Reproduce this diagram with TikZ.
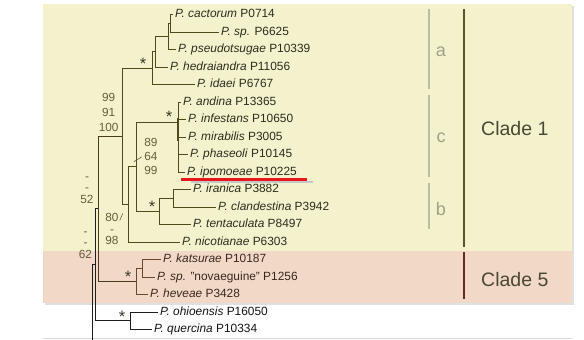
\documentclass[tikz,border=0pt]{standalone}
\usepackage{fontspec}
\setmainfont{Liberation Sans}
\usetikzlibrary{
  positioning,
  calc,
}
\definecolor{cladeone}{RGB}{244,242,205}
\definecolor{cladefive}{RGB}{242,217,199}
\definecolor{edgeone}{RGB}{78,74,28}
\definecolor{edgefive}{RGB}{105,72,45}
\definecolor{edgemid}{RGB}{72,60,30}
\definecolor{edgeout}{RGB}{30,30,30}
\definecolor{textone}{RGB}{45,44,30}
\definecolor{textfive}{RGB}{58,40,30}
\definecolor{textout}{RGB}{20,20,20}
\definecolor{supportcol}{RGB}{98,94,58}
\definecolor{subcladecol}{RGB}{190,188,160}
\definecolor{barone}{RGB}{92,84,36}
\definecolor{barfive}{RGB}{92,46,30}
\definecolor{cladetext}{RGB}{74,72,52}
\definecolor{markred}{RGB}{232,22,26}
\newcommand{\supsize}[1]{\fontsize{11.8}{#1}\selectfont}
\tikzset{
  leaf/.style={
    anchor=west, inner xsep=2.5pt, inner ysep=0pt,
    text height=9pt, text depth=2.5pt,
    font=\fontsize{11.9}{12}\selectfont, text=textone
  },
  leaffive/.style={leaf, text=textfive},
  leafout/.style={leaf, text=textout},
  branch/.style={line width=1pt, edgeone},
  branchfive/.style={line width=1pt, edgefive},
  branchmid/.style={line width=1pt, edgemid},
  branchout/.style={line width=1pt, edgeout},
  support/.style={
    inner sep=0pt, align=center, anchor=south, text=supportcol
  },
  starlabel/.style={
    inner sep=0pt, anchor=base, font=\fontsize{16.5}{16}\selectfont,
    text=supportcol!60!black
  },
  leader/.style={line width=0.6pt, supportcol},
  subbar/.style={line width=2pt, subcladecol},
  sublabel/.style={
    inner sep=0pt, anchor=base, font=\fontsize{18}{18}\selectfont,
    text=subcladecol!85!black
  },
  cladebar/.style={line width=2.2pt},
  cladelabel/.style={
    inner sep=0pt, anchor=base west, font=\fontsize{19.5}{20}\selectfont,
    text=cladetext
  },
  marker/.style={line width=3pt, markred},
}

\begin{document}
\begin{tikzpicture}[x=1pt, y=-1pt]
  \useasboundingbox (0,0) rectangle (584,340);

  % ── Clade bands ──
  \fill[cladeone] (43,4) rectangle (572,251);
  \fill[cladefive] (43,251) rectangle (572,303);
  \draw[black!12, line width=1.2pt] (573,6) -- (573,304) -- (45,304);
  \draw[black!15, line width=1pt] (43,338.5) -- (572,338.5);

  % ── Leaves: Clade 1 ──
  \node[leaf] (cac) at (172.5,14.5) {\textit{P. cactorum} P0714};
  \node[leaf] (psp) at (218.5,32) {\textit{P. sp.} P6625};
  \node[leaf] (pse) at (175.5,49.5) {\textit{P. pseudotsugae} P10339};
  \node[leaf] (hed) at (167.5,67) {\textit{P. hedraiandra} P11056};
  \node[leaf] (ida) at (194.5,84.5) {\textit{P. idaei} P6767};
  \node[leaf] (and) at (180.5,102) {\textit{P. andina} P13365};
  \node[leaf] (inf) at (185.5,119.5) {\textit{P. infestans} P10650};
  \node[leaf] (mir) at (185.5,137) {\textit{P. mirabilis} P3005};
  \node[leaf] (pha) at (187.5,154.5) {\textit{P. phaseoli} P10145};
  \node[leaf] (ipo) at (184.5,172) {\textit{P. ipomoeae} P10225};
  \node[leaf] (ira) at (190.5,189.5) {\textit{P. iranica} P3882};
  \node[leaf] (cla) at (215.5,207) {\textit{P. clandestina} P3942};
  \node[leaf] (ten) at (190.5,224.5) {\textit{P. tentaculata} P8497};
  \node[leaf] (nic) at (179.5,242) {\textit{P. nicotianae} P6303};

  % ── Leaves: Clade 5 and outgroup ──
  \node[leaffive] (kat) at (160.5,259.5) {\textit{P. katsurae} P10187};
  \node[leaffive] (nov) at (154.5,277) {\textit{P. sp.} "novaeguine" P1256};
  \node[leaffive] (hev) at (147.5,294.5) {\textit{P. heveae} P3428};
  \node[leafout] (ohi) at (157.5,312) {\textit{P. ohioensis} P16050};
  \node[leafout] (que) at (151.5,329.5) {\textit{P. quercina} P10334};

  % ── Internal nodes ──
  \coordinate (nA) at (170,23.2);
  \coordinate (nB) at (168,36.4);
  \coordinate (nC) at (155,51.7);
  \coordinate (nD) at (152,68.1);
  \coordinate (nN) at (178,122);
  \coordinate (nP) at (173,198.2);
  \coordinate (nM) at (159,211.4);
  \coordinate (nH) at (136,166.7);
  \coordinate (nG) at (128,204.3);
  \coordinate (nE) at (122,136.2);
  \coordinate (nK) at (142,268.2);
  \coordinate (nJ) at (136,281.4);
  \coordinate (nF) at (98,208.8);
  \coordinate (nL) at (130,320.7);
  \coordinate (nI) at (95,264.8);
  \coordinate (root) at (92,340);

  % ── Branches ──
  \foreach \p/\c in {nA/cac.west, nA/psp.west, nB/nA, nB/pse.west,
                     nC/nB, nC/hed.west, nD/nC, nD/ida.west,
                     nN/and.west, nN/inf.west, nN/mir.west, nN/pha.west, nN/ipo.west,
                     nP/ira.west, nP/cla.west, nM/nP, nM/ten.west,
                     nH/nN, nH/nM, nG/nH, nG/nic.west, nE/nD, nE/nG} {
    \draw[branch] (\p) |- (\c);
  }
  \draw[branch, line width=2.2pt] ([yshift=1.5pt]inf.west -| nN) -- ([yshift=-4pt]mir.west -| nN);
  \foreach \p/\c in {nK/kat.west, nK/nov.west, nJ/nK, nJ/hev.west} {
    \draw[branchfive] (\p) |- (\c);
  }
  \draw[branchmid] (nF) |- (nE);
  \draw[branchmid] (nF) |- (nJ);
  \foreach \p/\c in {nL/ohi.west, nL/que.west, nI/nF, nI/nL, root/nI} {
    \draw[branchout] (\p) |- (\c);
  }

  % ── Support values ──
  \node[support, font=\supsize{15}] (sE) at (108.7,132.2) {99\\91\\100};
  \node[support, font=\supsize{14}] (sH) at (151,175.2) {89\\64\\99};
  \node[support, font=\supsize{11.5}] (sG) at (112,245.2) {80\\-\\98};
  \node[support, font=\supsize{11.5}] (sF) at (87,203.5) {-\\-\\52};
  \node[support, font=\supsize{11.5}] (sI) at (85.5,258.5) {-\\-\\62};
  \draw[leader] ($(sH.west)+(-10.5,5)$) -- ($(sH.west)+(-2.5,0)$);
  \draw[leader] ($(sG.north east)+(1,7)$) -- ($(sG.north east)+(4,0)$);

  % ── Strongly supported nodes ──
  \node[starlabel] (tD) at (143,69.5) {*};
  \node[starlabel] (tN) at (169,122.5) {*};
  \node[starlabel] (tM) at (152,212.5) {*};
  \node[starlabel] (tJ) at (128,282.5) {*};
  \node[starlabel] (tL) at (122,322.5) {*};

  % ── Highlighted isolate ──
  \draw[black!22, line width=2pt] ([xshift=6pt,yshift=-4.5pt]ipo.south west) -- ([xshift=13pt,yshift=-4.5pt]ipo.south east);
  \draw[marker] ([xshift=-3.5pt,yshift=-1.5pt]ipo.south west) -- ([xshift=7.5pt,yshift=-1.5pt]ipo.south east);

  % ── Subclade bars ──
  \draw[subbar] (429,9) -- (429,89);
  \draw[subbar] (429,95) -- (429,177);
  \draw[subbar] (429,183) -- (429,229);
  \node[sublabel] (la) at (441,56) {a};
  \node[sublabel] (lc) at (441,142) {c};
  \node[sublabel] (lb) at (441,215) {b};

  % ── Clade bars ──
  \draw[cladebar, barone] (464,9) -- (464,247);
  \draw[cladebar, barfive] (464,252) -- (464,299);
  \node[cladelabel] (c1) at (481,135) {Clade 1};
  \node[cladelabel] (c5) at (481,286) {Clade 5};

\end{tikzpicture}
\end{document}
